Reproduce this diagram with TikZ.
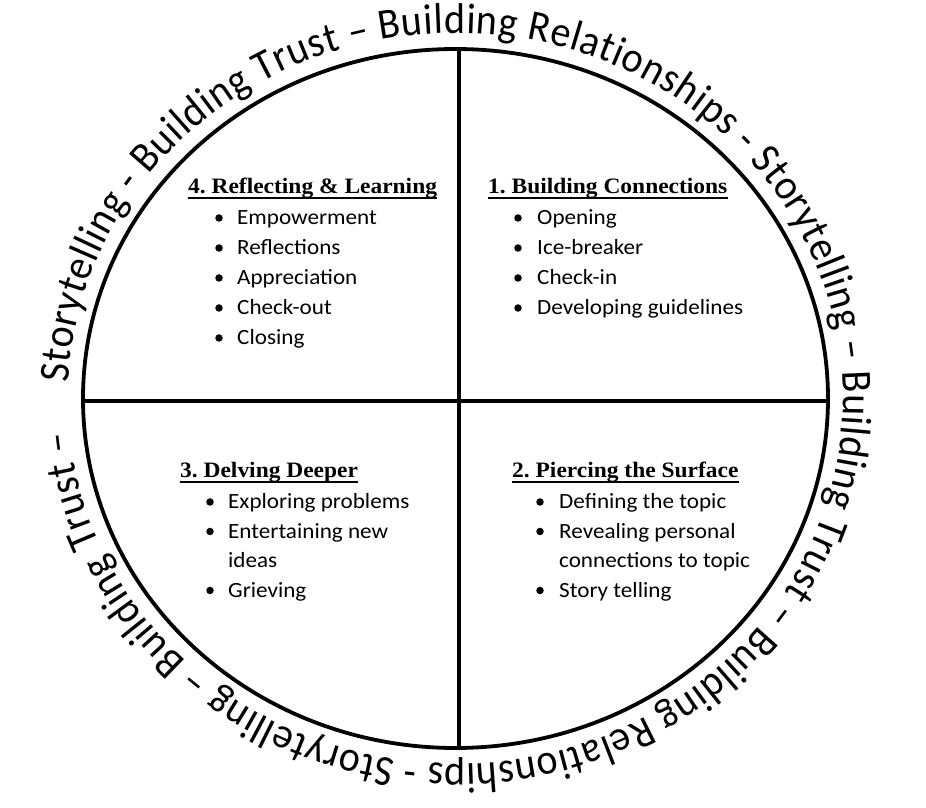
\documentclass[tikz,border=0pt]{standalone}
\usepackage{fontspec}
\setmainfont{Carlito}
\newfontfamily\itemfont[FakeStretch=1.066]{Carlito}
\newfontfamily\headfont[FakeStretch=1.066]{Liberation Serif}
\newfontfamily\ringfont[FakeStretch=0.93]{Carlito}
\usetikzlibrary{decorations.text}
\frenchspacing
\tikzset{
  frame/.style={line width=3.8pt, black},
  itm/.style={anchor=base west, inner sep=0pt, font=\itemfont\fontsize{21.7}{26}\selectfont},
  hdg/.style={anchor=base west, inner sep=0pt, font=\headfont\fontsize{22}{26}\selectfont\bfseries},
  bul/.style={circle, fill=black, inner sep=0pt, minimum size=7.5pt},
  uline/.style={line width=2pt}
}
\begin{document}
\begin{tikzpicture}[x=1pt,y=1pt]
\useasboundingbox (0,0) rectangle (926,808);
% ring and cross
\coordinate (c) at (455.5,409.5);
\coordinate (top) at (459,759);
\coordinate (bot) at (459,60);
\coordinate (lft) at (83,407);
\coordinate (rgt) at (828,407);
\draw[frame] (c) ellipse [x radius=372.5, y radius=349.5];
\draw[frame, line width=3.5pt] (top) -- (bot);
\draw[frame, line width=3.5pt] (lft) -- (rgt);
% text around the ring
\path[decorate, decoration={text along path, text align={fit to path},
  text={|\ringfont\fontsize{43}{46}\selectfont|Storytelling - Building Trust – Building Relationships - Storytelling – Building Trust – Building Relationships - Storytelling – Building Trust –}}]
  (c) ++(177.56:387.5 and 365.5) arc[start angle=177.56, end angle=-174.73, x radius=387.5, y radius=365.5];
% headings
\node[hdg] (h4) at (188,614) {4. Reflecting \& Learning};
\node[hdg] (h1) at (488,614) {1. Building Connections};
\node[hdg] (h3) at (180,330) {3. Delving Deeper};
\node[hdg] (h2) at (512,330) {2. Piercing the Surface};
\foreach \h in {h1,h2,h3,h4}
  \draw[uline] ([yshift=-4pt]\h.base west) -- ([yshift=-4pt]\h.base east);
% quadrant 4
\foreach \t [count=\i from 0] in {Empowerment, Reflections, Appreciation, Check-out, Closing} {
  \node[bul] (q4b\i) at (219,590-30*\i) {};
  \node[itm] (q4t\i) at (237,583-30*\i) {\t};
}
% quadrant 1
\foreach \t [count=\i from 0] in {Opening, Ice-breaker, Check-in, Developing guidelines} {
  \node[bul] (q1b\i) at (518,590-30*\i) {};
  \node[itm] (q1t\i) at (537,583-30*\i) {\t};
}
% quadrant 3
\node[bul] (q3b0) at (210,306) {};
\node[itm] (q3t0) at (228,299) {Exploring problems};
\node[bul] (q3b1) at (210,276.5) {};
\node[itm] (q3t1) at (228,269.5) {Entertaining new};
\node[itm] (q3t2) at (228,240) {ideas};
\node[bul] (q3b3) at (210,217.5) {};
\node[itm] (q3t3) at (228,210.5) {Grieving};
% quadrant 2
\node[bul] (q2b0) at (540,306) {};
\node[itm] (q2t0) at (559,299) {Defining the topic};
\node[bul] (q2b1) at (540,276.5) {};
\node[itm] (q2t1) at (559,269.5) {Revealing personal};
\node[itm] (q2t2) at (559,240) {connections to topic};
\node[bul] (q2b3) at (540,217.5) {};
\node[itm] (q2t3) at (559,210.5) {Story telling};
\end{tikzpicture}
\end{document}
